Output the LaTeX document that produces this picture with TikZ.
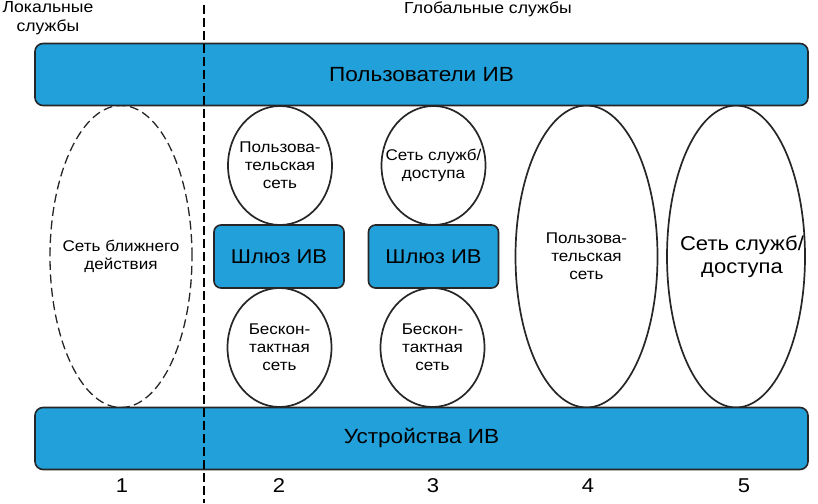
\documentclass[tikz,border=0pt]{standalone}
\usepackage{fontspec}
\setmainfont[FakeStretch=1.1]{Liberation Sans}
\usetikzlibrary{shapes.geometric}
\definecolor{ivblue}{RGB}{34,160,218}
\begin{document}
\begin{tikzpicture}[x=1pt,y=-1pt,
	bar/.style={draw=black!85, line width=1.6pt, fill=ivblue, rounded corners=8pt, minimum width=773pt, minimum height=62pt, font=\fontsize{20.5}{24}\selectfont},
	gate/.style={draw=black!85, line width=1.6pt, fill=ivblue, rounded corners=7pt, minimum width=130pt, minimum height=63pt, font=\fontsize{20}{24}\selectfont},
	net/.style={ellipse, draw=black!85, line width=1.7pt, fill=white, inner sep=0pt},
	txt/.style={font=\fontsize{15.5}{18}\selectfont, align=center},
	bigtxt/.style={font=\fontsize{20}{22.5}\selectfont, align=center},
	small/.style={font=\fontsize{16}{19}\selectfont, align=center},
	num/.style={font=\fontsize{20}{22}\selectfont}
	]
	\useasboundingbox (0,0) rectangle (818,503);
	% column 1 (local)
	\node[net, dashed, dash pattern=on 9pt off 4.5pt, line width=1.3pt, minimum width=142pt, minimum height=302pt,
		label={[txt]center:Сеть ближнего\\действия}] (e1) at (121,256.5) {};
	% columns 2 and 3
	\node[net, minimum width=104pt, minimum height=119pt, label={[txt]center:Пользова-\\тельская\\сеть}] (e2top) at (280,165.5) {};
	\node[gate] (g2) at (279,256.5) {Шлюз ИВ};
	\node[net, minimum width=104pt, minimum height=119pt, label={[txt]center:Бескон-\\тактная\\сеть}] (e2bot) at (279.5,347.5) {};
	\node[net, minimum width=104pt, minimum height=119pt, label={[txt]center:Сеть служб/\\доступа}] (e3top) at (433.5,165.5) {};
	\node[gate] (g3) at (433.5,256.5) {Шлюз ИВ};
	\node[net, minimum width=104pt, minimum height=119pt, label={[txt]center:Бескон-\\тактная\\сеть}] (e3bot) at (432.5,347.5) {};
	% columns 4 and 5
	\node[net, minimum width=142pt, minimum height=302pt, label={[txt]center:Пользова-\\тельская\\сеть}] (e4) at (586.5,256.5) {};
	\node[net, minimum width=138pt, minimum height=302pt, label={[bigtxt, xshift=6pt]center:Сеть служб/\\доступа}] (e5) at (736,256.5) {};
	% bars
	\node[bar] (users) at (421.5,74.5) {Пользователи ИВ};
	\node[bar] (devices) at (421.5,438.5) {Устройства ИВ};
	% divider
	\coordinate (divtop) at (204,5);
	\coordinate (divbot) at (204,503);
	\draw[line width=1.8pt, dash pattern=on 9pt off 4pt] (divtop) -- (divbot);
	\node[small] (local) at (48,18) {Локальные\\службы};
	\node[small] (global) at (488,9) {Глобальные службы};
	\node[num] (n1) at (122,486) {1};
	\node[num] (n2) at (279,486) {2};
	\node[num] (n3) at (433,486) {3};
	\node[num] (n4) at (588,486) {4};
	\node[num] (n5) at (744,486) {5};
\end{tikzpicture}
\end{document}
